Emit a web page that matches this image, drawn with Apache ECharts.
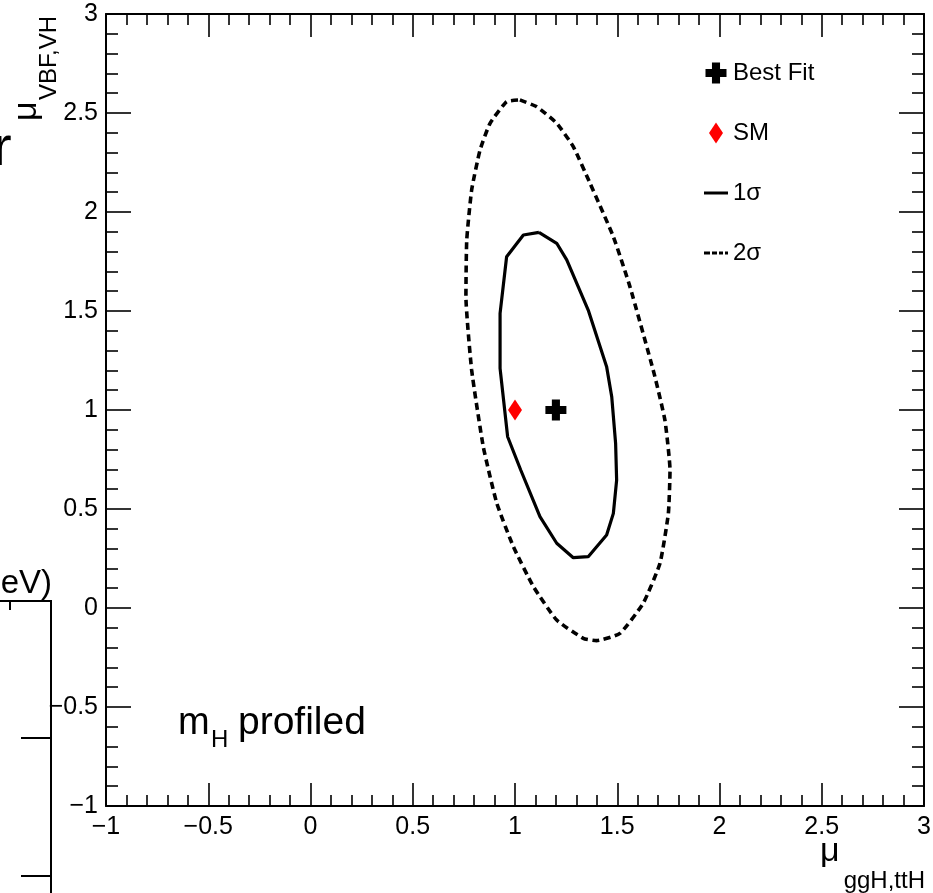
<!DOCTYPE html>
<html>
<head>
<meta charset="utf-8">
<title>mu_ggH,ttH vs mu_VBF,VH</title>
<script src="https://cdn.jsdelivr.net/npm/echarts@6/dist/echarts.min.js"></script>
<style>
  html, body { margin: 0; padding: 0; background: #fff; }
  #chart { width: 933px; height: 893px; }
</style>
</head>
<body>
<div id="chart"></div>
<script>
// Axis ranges and major tick step
const xRange = [-1, 3];
const yRange = [-1, 3];
const majorStep = 0.5;

// Best-fit point and Standard Model expectation
const bestFit = [[1.2, 1.0]];
const smPoint = [[1.0, 1.0]];

// 68% CL contour (1 sigma), closed
const contour1Sigma = [
  [1.117, 1.897], [1.204, 1.842], [1.253, 1.758], [1.358, 1.505], [1.448, 1.219],
  [1.473, 1.067], [1.492, 0.832], [1.497, 0.646], [1.481, 0.478], [1.448, 0.369],
  [1.358, 0.259], [1.285, 0.254], [1.204, 0.327], [1.122, 0.461], [1.028, 0.697],
  [0.964, 0.865], [0.927, 1.210], [0.927, 1.488], [0.959, 1.774], [1.041, 1.884],
  [1.117, 1.897]
];

// 95% CL contour (2 sigma), closed
const contour2Sigma = [
  [1.024, 2.566], [1.106, 2.532], [1.204, 2.448], [1.285, 2.330], [1.367, 2.145],
  [1.481, 1.875], [1.562, 1.623], [1.680, 1.185], [1.733, 0.949], [1.758, 0.697],
  [1.750, 0.478], [1.709, 0.226], [1.627, 0.024], [1.513, -0.128], [1.399, -0.165],
  [1.334, -0.153], [1.204, -0.061], [1.090, 0.108], [0.992, 0.310], [0.911, 0.529],
  [0.845, 0.814], [0.788, 1.202], [0.760, 1.572], [0.764, 1.859], [0.788, 2.111],
  [0.829, 2.313], [0.878, 2.448], [0.959, 2.557], [1.024, 2.566]
];

const legendNames = ['Best Fit', 'SM', '1\u03c3', '2\u03c3'];

const FONT = '"Liberation Sans", Arial, Helvetica, sans-serif';
const crossPath = 'path://M4,0H9V4H13V9H9V13H4V9H0V4H4Z';
const diamondPath = 'path://M7,0L14,10.5L7,21L0,10.5Z';
const solidIcon = 'path://M0,0H24V3H0Z';
const dashIcon = 'path://M0,0H6V3H0ZM8,0H13V3H8ZM15,0H19V3H15ZM21,0H24V3H21Z';

const fmt = v => String(v).replace('-', '\u2212');

function xAxisDef(pos, labels) {
  return {
    type: 'value', position: pos, min: xRange[0], max: xRange[1], interval: majorStep,
    axisLine: { show: true, onZero: false, lineStyle: { color: '#000', width: 2 } },
    axisTick: { show: true, inside: true, length: 23, lineStyle: { color: '#000', width: 1.6 } },
    minorTick: { show: true, splitNumber: 5, length: 11, lineStyle: { color: '#000', width: 1.6 } },
    splitLine: { show: false }, minorSplitLine: { show: false },
    axisLabel: { show: labels, margin: 9, fontSize: 25, color: '#000', fontFamily: FONT, formatter: fmt }
  };
}
function yAxisDef(pos, labels) {
  return {
    type: 'value', position: pos, min: yRange[0], max: yRange[1], interval: majorStep,
    axisLine: { show: true, onZero: false, lineStyle: { color: '#000', width: 2 } },
    axisTick: { show: true, inside: true, length: 25, lineStyle: { color: '#000', width: 1.6 } },
    minorTick: { show: true, splitNumber: 5, length: 12, lineStyle: { color: '#000', width: 1.6 } },
    splitLine: { show: false }, minorSplitLine: { show: false },
    axisLabel: { show: labels, margin: 8, fontSize: 25, color: '#000', fontFamily: FONT, formatter: fmt }
  };
}

const iconStyle = { color: '#000', opacity: 1, borderWidth: 0, borderColor: 'transparent' };

const chart = echarts.init(document.getElementById('chart'), null, { renderer: 'canvas' });
chart.setOption({
  backgroundColor: '#fff',
  animation: false,
  grid: { left: 106, top: 14, width: 818, height: 792, outerBoundsMode: 'none', containLabel: false },
  xAxis: [xAxisDef('bottom', true), xAxisDef('top', false)],
  yAxis: [yAxisDef('left', true), yAxisDef('right', false)],
  legend: {
    orient: 'vertical', left: 704, top: 61, padding: 0, itemGap: 36,
    itemWidth: 24, itemHeight: 21, selectedMode: false, symbolKeepAspect: true,
    textStyle: { fontSize: 24, color: '#000', fontFamily: FONT },
    data: [
      { name: legendNames[0], icon: crossPath, itemStyle: iconStyle },
      { name: legendNames[1], icon: diamondPath, itemStyle: { color: '#ff0000', opacity: 1, borderWidth: 0, borderColor: 'transparent' } },
      { name: legendNames[2], icon: solidIcon, itemStyle: iconStyle },
      { name: legendNames[3], icon: dashIcon, itemStyle: iconStyle }
    ]
  },
  series: [
    {
      name: legendNames[3], type: 'line', data: contour2Sigma, symbol: 'none', z: 2,
      smooth: 0.15,
      lineStyle: { color: '#000', width: 3.6, type: [7, 4.5] }, itemStyle: { color: '#000' }
    },
    {
      name: legendNames[2], type: 'line', data: contour1Sigma, symbol: 'none', z: 2,
      lineStyle: { color: '#000', width: 3.2, type: 'solid' }, itemStyle: { color: '#000' }
    },
    {
      name: legendNames[1], type: 'scatter', data: smPoint, z: 4,
      symbol: diamondPath, symbolSize: [14, 21], itemStyle: { color: '#ff0000', opacity: 1 }
    },
    {
      name: legendNames[0], type: 'scatter', data: bestFit, z: 4,
      symbol: crossPath, symbolSize: 21, itemStyle: { color: '#000', opacity: 1 }
    }
  ],
  graphic: [
    // x-axis title
    { type: 'text', x: 820, y: 852, style: { text: '\u03bc', font: '34px ' + FONT, fill: '#000', textAlign: 'left', textVerticalAlign: 'middle' } },
    { type: 'text', x: 925, y: 881, style: { text: 'ggH,ttH', font: '24px ' + FONT, fill: '#000', textAlign: 'right', textVerticalAlign: 'middle' } },
    // y-axis title, reading upwards
    { type: 'text', x: 27, y: 121, rotation: Math.PI / 2, style: { text: '\u03bc', font: '34px ' + FONT, fill: '#000', textAlign: 'left', textVerticalAlign: 'middle' } },
    { type: 'text', x: 49, y: 100, rotation: Math.PI / 2, style: { text: 'VBF,VH', font: '24px ' + FONT, fill: '#000', textAlign: 'left', textVerticalAlign: 'middle' } },
    // in-plot annotation
    { type: 'text', x: 178, y: 724, style: { text: 'm', font: '38px ' + FONT, fill: '#000', textAlign: 'left', textVerticalAlign: 'middle' } },
    { type: 'text', x: 211, y: 740, style: { text: 'H', font: '24px ' + FONT, fill: '#000', textAlign: 'left', textVerticalAlign: 'middle' } },
    { type: 'text', x: 238, y: 723, style: { text: 'profiled', font: '39px ' + FONT, fill: '#000', textAlign: 'left', textVerticalAlign: 'middle' } },
    // neighbouring panel edge on the left
    { type: 'text', x: -7, y: 150, style: { text: 'r', font: '56px ' + FONT, fill: '#000', textAlign: 'left', textVerticalAlign: 'middle' } },
    { type: 'text', x: 52, y: 584, style: { text: '(GeV)', font: '33px ' + FONT, fill: '#000', textAlign: 'right', textVerticalAlign: 'middle' } },
    { type: 'polyline', shape: { points: [[0, 601], [51, 601], [51, 893]] }, style: { stroke: '#000', lineWidth: 2, fill: null } },
    { type: 'line', shape: { x1: 10, y1: 601, x2: 10, y2: 610 }, style: { stroke: '#000', lineWidth: 2 } },
    { type: 'line', shape: { x1: 21, y1: 738, x2: 51, y2: 738 }, style: { stroke: '#000', lineWidth: 2 } },
    { type: 'line', shape: { x1: 21, y1: 876, x2: 51, y2: 876 }, style: { stroke: '#000', lineWidth: 2 } }
  ]
});
</script>
</body>
</html>
